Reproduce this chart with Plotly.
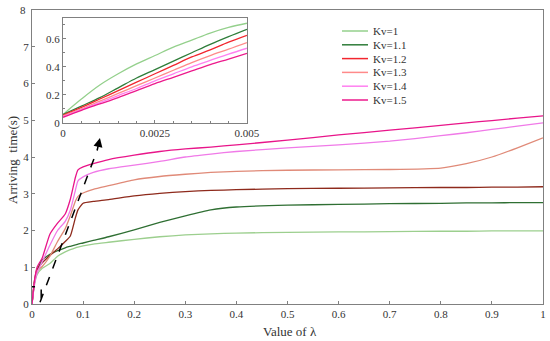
import plotly.graph_objects as go

# ---------------- data ----------------
labels = ["Kv=1", "Kv=1.1", "Kv=1.2", "Kv=1.3", "Kv=1.4", "Kv=1.5"]
legend_colors = ["#94d08c", "#2f7d3a", "#f2262e", "#ff8a8a", "#ff80f0", "#ec1a8c"]
main_colors = ["#9ccf8e", "#2f6f33", "#8e2a1c", "#e08a78", "#f07ae8", "#e8158a"]

x_main = [0, 0.005, 0.01, 0.02, 0.035, 0.05, 0.065, 0.075, 0.085, 0.09, 0.1, 0.12,
          0.15, 0.2, 0.25, 0.3, 0.35, 0.4, 0.5, 0.6, 0.7, 0.8, 0.85, 0.9, 0.95, 1.0]

kv10 = [0, 0.55, 0.8, 0.97, 1.1, 1.3, 1.42, 1.48, 1.53, 1.55, 1.58, 1.63,
        1.68, 1.76, 1.83, 1.88, 1.91, 1.93, 1.95, 1.96, 1.97, 1.98, 1.98, 1.99, 1.99, 1.99]
kv11 = [0, 0.6, 0.9, 1.2, 1.35, 1.45, 1.53, 1.57, 1.61, 1.63, 1.66, 1.73,
        1.83, 2.02, 2.22, 2.40, 2.56, 2.64, 2.69, 2.71, 2.73, 2.74, 2.75, 2.75, 2.76, 2.76]
kv12 = [0, 0.65, 0.95, 1.12, 1.32, 1.5, 1.7, 1.85, 2.35, 2.56, 2.74, 2.79,
        2.84, 2.94, 3.01, 3.06, 3.09, 3.11, 3.14, 3.15, 3.16, 3.17, 3.17, 3.18, 3.18, 3.19]
kv13 = [0, 0.6, 0.9, 1.02, 1.3, 1.7, 2.05, 2.4, 2.8, 2.93, 3.02, 3.12,
        3.22, 3.38, 3.47, 3.53, 3.58, 3.61, 3.64, 3.65, 3.66, 3.70, 3.82, 4.0, 4.25, 4.52]
kv14 = [0, 0.55, 0.85, 1.15, 1.6, 2.0, 2.25, 2.55, 3.1, 3.35, 3.46, 3.58,
        3.68, 3.78, 3.88, 4.0, 4.08, 4.15, 4.25, 4.33, 4.43, 4.58, 4.66, 4.75, 4.84, 4.93]
kv15 = [0, 0.65, 1.0, 1.25, 1.9, 2.2, 2.45, 2.85, 3.45, 3.65, 3.73, 3.82,
        3.93, 4.05, 4.15, 4.22, 4.27, 4.33, 4.46, 4.6, 4.73, 4.86, 4.93, 4.99, 5.06, 5.12]
main_series = [kv10, kv11, kv12, kv13, kv14, kv15]

x_inset = [0, 0.0005, 0.001, 0.0015, 0.002, 0.0025, 0.003, 0.0035, 0.004, 0.0045, 0.005]
in10 = [0.06, 0.17, 0.27, 0.35, 0.42, 0.48, 0.54, 0.59, 0.64, 0.68, 0.71]
in11 = [0.06, 0.12, 0.18, 0.25, 0.32, 0.38, 0.44, 0.50, 0.56, 0.615, 0.667]
in12 = [0.055, 0.11, 0.17, 0.23, 0.29, 0.35, 0.41, 0.47, 0.52, 0.575, 0.624]
in13 = [0.05, 0.10, 0.155, 0.21, 0.265, 0.32, 0.375, 0.43, 0.48, 0.525, 0.572]
in14 = [0.045, 0.095, 0.145, 0.195, 0.245, 0.30, 0.35, 0.40, 0.445, 0.49, 0.532]
in15 = [0.04, 0.09, 0.135, 0.18, 0.23, 0.28, 0.325, 0.37, 0.415, 0.455, 0.496]
inset_series = [in10, in11, in12, in13, in14, in15]

x_ticks_main = [0, 0.1, 0.2, 0.3, 0.4, 0.5, 0.6, 0.7, 0.8, 0.9, 1]
x_ticktext_main = ["0", "0.1", "0.2", "0.3", "0.4", "0.5", "0.6", "0.7", "0.8", "0.9", "1"]
y_ticks_main = [0, 1, 2, 3, 4, 5, 6, 7]
y_top_tick = 8
x_ticks_inset = [0, 0.0025, 0.005]
x_ticktext_inset = ["0", "0.0025", "0.005"]
y_ticks_inset = [0, 0.2, 0.4, 0.6]

FONT = "Liberation Serif"
W, H = 550, 341
ML, MR, MT, MB = 32, 7, 10, 37
PW, PH = W - ML - MR, H - MT - MB


def px2paper(px, py):
    return (px - ML) / PW, (H - MB - py) / PH


fig = go.Figure()
for lab, col, ys in zip(labels, main_colors, main_series):
    fig.add_trace(go.Scatter(x=x_main, y=ys, mode="lines", line=dict(color=col, width=1.3, shape="spline", smoothing=0.5),
                             showlegend=False, xaxis="x", yaxis="y", hoverinfo="skip"))
for lab, col, ys in zip(labels, legend_colors, inset_series):
    fig.add_trace(go.Scatter(x=x_inset, y=ys, mode="lines", name=lab, line=dict(color=col, width=1.3, shape="spline"),
                             showlegend=False, xaxis="x2", yaxis="y2"))

axis_common = dict(showline=True, linecolor="#808080", linewidth=1, mirror=True, showgrid=False, zeroline=False,
                   automargin=False, ticks="inside", ticklen=3, tickcolor="#808080", ticklabeloverflow="allow",
                   tickfont=dict(family=FONT, size=11, color="#333"))

fig.update_layout(
    width=W, height=H,
    margin=dict(l=ML, r=MR, t=MT, b=MB),
    paper_bgcolor="white", plot_bgcolor="white",
    font=dict(family=FONT, size=11, color="#333"),
    showlegend=False,
    xaxis=dict(range=[0, 1], tickvals=x_ticks_main, ticktext=x_ticktext_main, **axis_common),
    yaxis=dict(range=[0, y_top_tick], tickvals=y_ticks_main, **axis_common),
    xaxis2=dict(domain=[0.0607, 0.4207], anchor="y2", range=[0, 0.005], tickvals=x_ticks_inset, ticktext=x_ticktext_inset,
                minor=dict(dtick=0.0005, ticks="inside", ticklen=2, tickcolor="#808080"), **axis_common),
    yaxis2=dict(domain=[0.616, 0.974], anchor="x2", range=[0, 0.75], tickvals=y_ticks_inset,
                minor=dict(dtick=0.1, ticks="inside", ticklen=2, tickcolor="#808080"), **axis_common),
)

# top y tick label (placed explicitly so it is not dropped at the plot edge)
lx, _ = px2paper(28, 0)
fig.add_annotation(text=str(y_top_tick), xref="paper", yref="y", x=lx, y=y_top_tick, xanchor="right",
                   yanchor="middle", showarrow=False, font=dict(family=FONT, size=11, color="#333"))

# axis titles
tx, ty = px2paper(290, 331)
fig.add_annotation(text="Value of λ", xref="paper", yref="paper", x=tx, y=ty, yanchor="middle",
                   showarrow=False, font=dict(family=FONT, size=13, color="#333"))
tx, ty = px2paper(12, 160)
fig.add_annotation(text="Arriving\u00a0 time(s)", xref="paper", yref="paper", x=tx, y=ty, xanchor="center",
                   textangle=-90, showarrow=False, font=dict(family=FONT, size=13, color="#333"))

# manual legend (compact rows)
for i, (lab, col) in enumerate(zip(labels, legend_colors)):
    py = 31 + 13.8 * i
    x0, y0 = px2paper(342, py)
    x1, _ = px2paper(368, py)
    xt, _ = px2paper(371, py)
    fig.add_shape(type="line", xref="paper", yref="paper", x0=x0, x1=x1, y0=y0, y1=y0,
                  line=dict(color=col, width=1.5))
    fig.add_annotation(text=lab, xref="paper", yref="paper", x=xt, y=y0, xanchor="left", yanchor="middle",
                       showarrow=False, font=dict(family=FONT, size=11, color="#333"))

# dashed zoom box and dashed arrow
fig.add_shape(type="rect", xref="x", yref="y", x0=-0.003, x1=0.018, y0=-0.05, y1=0.47,
              line=dict(color="black", width=1.5, dash="dash"))
fig.add_shape(type="line", xref="x", yref="y", x0=0.0157, y0=0.05, x1=0.128, y1=4.2,
              line=dict(color="black", width=1.5, dash="dash"))
fig.add_annotation(x=0.133, y=4.52, ax=0.127, ay=4.15, xref="x", yref="y", axref="x", ayref="y",
                   showarrow=True, arrowhead=2, arrowsize=1.2, arrowwidth=1.5, arrowcolor="black", text="")

fig.write_html("out.html", config={"displayModeBar": False},
               post_script="document.body.style.margin='0';document.body.style.overflow='hidden';")
